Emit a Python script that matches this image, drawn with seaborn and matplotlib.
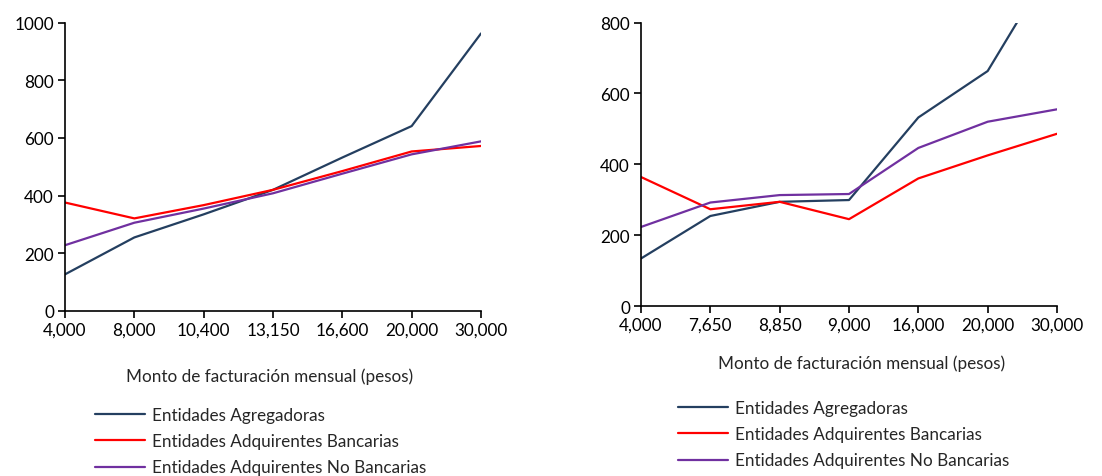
import matplotlib
matplotlib.use("Agg")
import matplotlib.pyplot as plt
import seaborn as sns
import pandas as pd
from matplotlib.lines import Line2D

sns.set_theme(style="white")
plt.rcParams['font.family'] = ['Lato', 'DejaVu Sans']

series_names = ["Entidades Agregadoras", "Entidades Adquirentes Bancarias",
                "Entidades Adquirentes No Bancarias"]
colors = ["#243F60", "#FF0000", "#7030A0"]

left_cats = ["4,000", "8,000", "10,400", "13,150", "16,600", "20,000", "30,000"]
left_agreg = [127, 255, 335, 420, 532, 641, 962]
left_banc = [376, 321, 367, 420, 485, 553, 572]
left_nobanc = [228, 306, 355, 408, 476, 543, 588]

right_cats = ["4,000", "7,650", "8,850", "9,000", "16,000", "20,000", "30,000"]
right_agreg = [134, 254, 294, 299, 532, 663, 987]
right_banc = [364, 273, 294, 245, 360, 425, 486]
right_nobanc = [223, 292, 313, 316, 446, 520, 555]

xlabel = "Monto de facturación mensual (pesos)"

FS = 12.3
W, H = 1102, 477
fig = plt.figure(figsize=(W / 100, H / 100), dpi=100)

def ax_at(x0, y0, x1, y1):
    return fig.add_axes([x0 / W, 1 - y1 / H, (x1 - x0) / W, (y1 - y0) / H])

axL = ax_at(65, 23.5, 481, 312)
axR = ax_at(641, 23.5, 1057, 307)

def draw(ax, cats, vals, ymax, ystep):
    rows = []
    for name, v in zip(series_names, vals):
        for i, (c, y) in enumerate(zip(cats, v)):
            rows.append({"pos": i, "cat": c, "value": y, "serie": name})
    df = pd.DataFrame(rows)
    sns.lineplot(data=df, x="pos", y="value", hue="serie", palette=colors,
                 hue_order=series_names, ax=ax, linewidth=1.6, legend=False,
                 estimator=None, sort=False)
    ax.set_xlim(0, len(cats) - 1)
    ax.set_ylim(0, ymax)
    ax.set_yticks(range(0, ymax + 1, ystep))
    ax.set_xticks(range(len(cats)))
    ax.set_xticklabels(cats)
    ax.set_xlabel("")
    ax.set_ylabel("")
    for s in ["top", "right"]:
        ax.spines[s].set_visible(False)
    for s in ["left", "bottom"]:
        ax.spines[s].set_color("black")
        ax.spines[s].set_linewidth(1.2)
    ax.tick_params(axis="both", direction="out", length=5, width=1.2,
                   colors="black", labelsize=FS, pad=3, bottom=True, left=True)
    ax.set_facecolor("none")

draw(axL, left_cats, [left_agreg, left_banc, left_nobanc], 1000, 200)
draw(axR, right_cats, [right_agreg, right_banc, right_nobanc], 800, 200)

fig.text(270 / W, 1 - 377 / H, xlabel, ha="center", va="center", fontsize=FS)
fig.text(862 / W, 1 - 364 / H, xlabel, ha="center", va="center", fontsize=FS)

handles = [Line2D([], [], color=c, linewidth=1.6) for c in colors]

def legend_at(x, y):
    return fig.legend(handles, series_names, loc="upper left",
                      bbox_to_anchor=(x / W, 1 - y / H), frameon=False,
                      fontsize=FS, handlelength=2.95, handletextpad=0.4,
                      labelspacing=0.6, borderaxespad=0, borderpad=0)

legend_at(95, 408)
legend_at(678, 401)

fig.savefig("out.png", dpi=100)
